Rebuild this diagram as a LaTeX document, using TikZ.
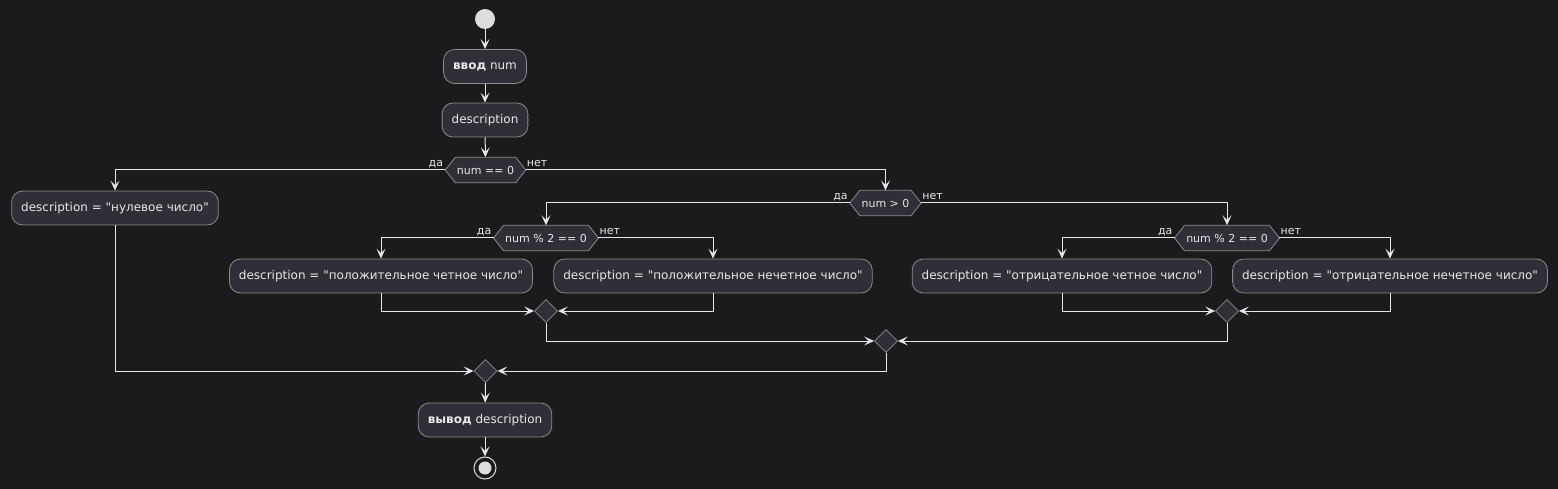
\documentclass[tikz,border=0pt]{standalone}
\usepackage{fontspec}
\setmainfont{DejaVu Sans}[Ligatures=TeXOff]
\usetikzlibrary{arrows.meta,shapes.geometric,calc}
\definecolor{bgc}{HTML}{1B1B1B}
\definecolor{nodefill}{HTML}{2F2F37}
\definecolor{nodeline}{HTML}{8C8C8C}
\definecolor{txt}{HTML}{E8E8E8}
\definecolor{wire}{HTML}{E6E6E6}
\definecolor{dot}{HTML}{DDDDDD}
\pgfdeclarelayer{bg}
\pgfsetlayers{bg,main}
\tikzset{
 act/.style={draw=nodeline, fill=nodefill, rounded corners=11pt, minimum height=34pt, inner xsep=9.5pt, text=txt, font=\fontsize{12}{14}\selectfont, line width=0.8pt},
 cond/.style={inner xsep=11.5pt, inner ysep=0pt, minimum height=25pt, text=txt, font=\fontsize{11}{13}\selectfont},
 merge/.style={diamond, draw=nodeline, fill=nodefill, minimum width=23pt, minimum height=23pt, inner sep=0pt, line width=0.8pt},
 flow/.style={draw=wire, line width=1pt, -{Stealth[length=10pt,width=9pt,inset=4.5pt]}},
 lbl/.style={text=txt, font=\fontsize{11}{13}\selectfont, inner sep=0pt},
 hexshape/.style={draw=nodeline, fill=nodefill, line width=0.8pt},
}
\newcommand\hexdraw[1]{\begin{pgfonlayer}{bg}\path[hexshape] (#1.west) -- ([xshift=10pt]#1.north west) -- ([xshift=-10pt]#1.north east) -- (#1.east) -- ([xshift=-10pt]#1.south east) -- ([xshift=10pt]#1.south west) -- cycle;\end{pgfonlayer}}
\newcommand\yesno[1]{%
 \node[lbl, anchor=base east] (#1-yes) at ([xshift=-2pt,yshift=3.5pt]#1.west) {да};
 \node[lbl, anchor=base west] (#1-no) at ([xshift=1pt,yshift=3.5pt]#1.east) {нет};}
\begin{document}
\begin{tikzpicture}[x=1pt,y=-1pt]
\begin{pgfonlayer}{bg}
\fill[bgc] (0,0) rectangle (1558,489);
\end{pgfonlayer}
\useasboundingbox (0,0) rectangle (1558,489);

\node[circle, fill=dot, minimum size=20pt, inner sep=0pt] (start) at (485,19) {};
\node[act] (in) at (485,66.5) {\textbf{ввод} num};
\node[act] (desc) at (485,120) {description};
\node[cond] (c1) at (485.5,170) {num == 0};
\node[act] (z) at (115,208) {description = "нулевое число"};
\node[cond] (c2) at (885.5,203) {num > 0};
\node[cond] (c3) at (546,238) {num \% 2 == 0};
\node[act] (p1) at (381,276) {description = "положительное четное число"};
\node[act] (p2) at (713,276) {description = "положительное нечетное число"};
\node[cond] (c4) at (1227,238) {num \% 2 == 0};
\node[act] (n1) at (1062,276) {description = "отрицательное четное число"};
\node[act] (n2) at (1390,276) {description = "отрицательное нечетное число"};
\node[merge] (m1) at (546,311) {};
\node[merge] (m2) at (1227,311) {};
\node[merge] (m3) at (886,341) {};
\node[merge] (m4) at (485.5,371) {};
\node[act] (out) at (485,420) {\textbf{вывод} description};
\node[circle, draw=dot, line width=1pt, minimum size=22pt, inner sep=0pt] (end) at (485,468) {};
\node[circle, fill=dot, minimum size=13pt, inner sep=0pt] (endin) at (end) {};

\hexdraw{c1}\hexdraw{c2}\hexdraw{c3}\hexdraw{c4}
\yesno{c1}\yesno{c2}\yesno{c3}\yesno{c4}

\draw[flow] (start) -- (in);
\draw[flow] (in) -- (desc);
\draw[flow] (desc) -- (c1);
\draw[flow] (c1.west) -| (z.north);
\draw[flow] (c1.east) -| (c2.north);
\draw[flow] (c2.west) -| (c3.north);
\draw[flow] (c2.east) -| (c4.north);
\draw[flow] (c3.west) -| (p1.north);
\draw[flow] (c3.east) -| (p2.north);
\draw[flow] (c4.west) -| (n1.north);
\draw[flow] (c4.east) -| (n2.north);
\draw[flow] (p1.south) |- (m1.west);
\draw[flow] (p2.south) |- (m1.east);
\draw[flow] (n1.south) |- (m2.west);
\draw[flow] (n2.south) |- (m2.east);
\draw[flow] (m1.south) |- (m3.west);
\draw[flow] (m2.south) |- (m3.east);
\draw[flow] (z.south) |- (m4.west);
\draw[flow] (m3.south) |- (m4.east);
\draw[flow] (m4) -- (out);
\draw[flow] (out) -- (end);
\end{tikzpicture}
\end{document}
